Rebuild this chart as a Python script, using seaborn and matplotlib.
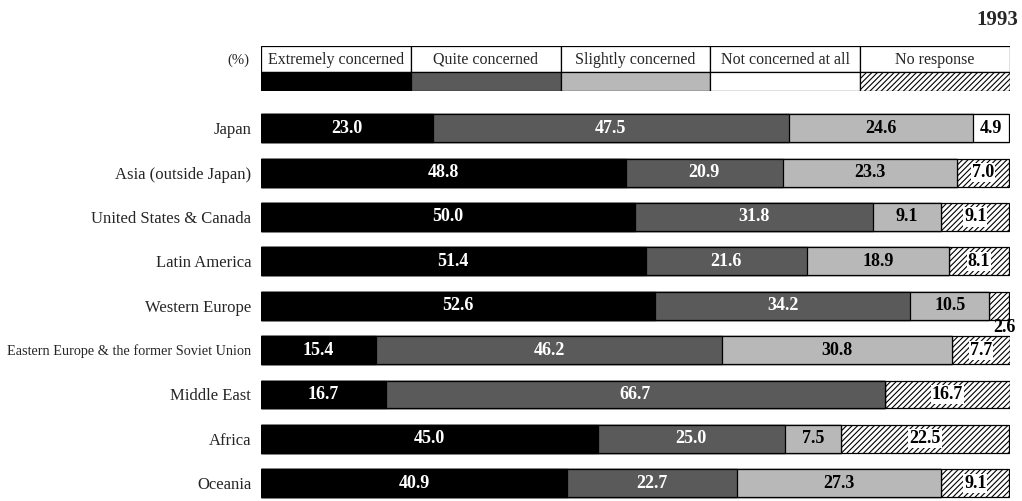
import matplotlib
matplotlib.use("Agg")
import matplotlib.pyplot as plt
from matplotlib.patches import Rectangle
import numpy as np
import pandas as pd
import seaborn as sns

# Survey results, 1993 (% of respondents by region)
regions = [
    "Japan",
    "Asia (outside Japan)",
    "United States & Canada",
    "Latin America",
    "Western Europe",
    "Eastern Europe & the former Soviet Union",
    "Middle East",
    "Africa",
    "Oceania",
]
categories = ["Extremely concerned", "Quite concerned", "Slightly concerned",
              "Not concerned at all", "No response"]

extremely = [23.0, 48.8, 50.0, 51.4, 52.6, 15.4, 16.7, 45.0, 40.9]
quite = [47.5, 20.9, 31.8, 21.6, 34.2, 46.2, 66.7, 25.0, 22.7]
slightly = [24.6, 23.3, 9.1, 18.9, 10.5, 30.8, 0.0, 7.5, 27.3]
not_at_all = [4.9, 0.0, 0.0, 0.0, 0.0, 0.0, 0.0, 0.0, 0.0]
no_response = [0.0, 7.0, 9.1, 8.1, 2.6, 7.7, 16.7, 22.5, 9.1]

series = [extremely, quite, slightly, not_at_all, no_response]
face_colors = ["#000000", "#5a5a5a", "#b8b8b8", "#ffffff", "#ffffff"]
hatches = [None, None, None, None, "//////"]
text_colors = ["white", "white", "black", "black", "black"]

sns.set_theme(style="white")
plt.rcParams["font.family"] = ["Liberation Serif", "DejaVu Serif"]
plt.rcParams["hatch.linewidth"] = 0.8

df = pd.DataFrame({"region": regions})
for name, vals in zip(categories, series):
    df[name] = vals
cum = df[categories].cumsum(axis=1)

fig = plt.figure(figsize=(10.22, 5.01), dpi=100)
ax = fig.add_axes([261 / 1022, 0.0, 749 / 1022, 395 / 501])

# Stacked bars: draw cumulative totals from the outermost layer inwards
for i in range(len(categories) - 1, -1, -1):
    n_before = len(ax.patches)
    sns.barplot(data=pd.DataFrame({"region": regions, "x": cum[categories[i]]}),
                x="x", y="region", order=regions, orient="h",
                color=face_colors[i], saturation=1, width=0.63,
                edgecolor="black", linewidth=0.9, ax=ax)
    for p in ax.patches[n_before:]:
        p.set_facecolor(face_colors[i])
        if hatches[i]:
            p.set_hatch(hatches[i])

ax.set_xlim(0, 100.1)
ax.set_ylim(8.4, -0.5)
ax.set_xlabel("")
ax.set_ylabel("")
ax.set_xticks([])
ax.tick_params(axis="y", length=0, pad=7, labelsize=12)
for lbl in ax.get_yticklabels():
    if len(lbl.get_text()) > 30:
        lbl.set_fontsize(10.3)
for s in ax.spines.values():
    s.set_visible(False)

# Segment value labels
for r in range(len(regions)):
    left = 0.0
    for i, name in enumerate(categories):
        v = series[i][r]
        if v > 0:
            if v < 4 and i == 4:
                ax.text(cum.loc[r, name] + 1.0, r + 0.5, f"{v:.1f}",
                        ha="right", va="center", fontsize=13,
                        fontweight="bold", color="black")
            else:
                kw = {}
                if hatches[i]:
                    kw["bbox"] = dict(boxstyle="square,pad=0.06",
                                      facecolor="white", edgecolor="none")
                ax.text(left + v / 2, r, f"{v:.1f}", ha="center", va="center",
                        fontsize=13, fontweight="bold", color=text_colors[i],
                        **kw)
        left += v

# Key table above the bars
lax = fig.add_axes([261 / 1022, 1 - 91 / 501, 749 / 1022, 45 / 501])
lax.set_xlim(0, 5)
lax.set_ylim(0, 45)
lax.axis("off")
for i, name in enumerate(categories):
    lax.add_patch(Rectangle((i, 19), 1, 26, facecolor="white",
                            edgecolor="black", linewidth=0.9))
    lax.add_patch(Rectangle((i, 0), 1, 19, facecolor=face_colors[i],
                            edgecolor="black", linewidth=0.9,
                            hatch=hatches[i]))
    lax.text(i + 0.5, 31, name, ha="center", va="center", fontsize=11.5)

fig.text(249 / 1022, 1 - 60 / 501, "(%)", ha="right", va="center", fontsize=10.5)
fig.text(1018 / 1022, 1 - 20 / 501, "1993", ha="right", va="center",
         fontsize=15, fontweight="bold")

fig.savefig("out.png", dpi=100)
